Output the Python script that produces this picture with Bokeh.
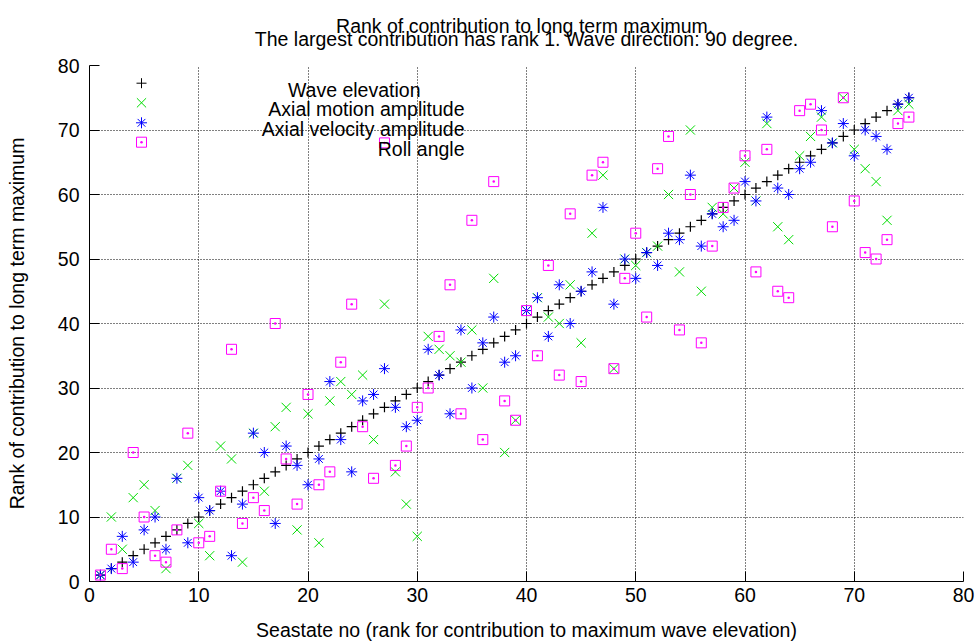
from bokeh.plotting import figure
from bokeh.models import Label, FixedTicker, Range1d, Title
from bokeh.embed import file_html
from bokeh.resources import INLINE

# ---------------- data ----------------
seastate = [1, 2, 3, 4, 5, 6, 7, 8, 9, 10, 11, 12, 13, 14, 15, 16, 17, 18, 19, 20,
            21, 22, 23, 24, 25, 26, 27, 28, 29, 30, 31, 32, 33, 34, 35, 36, 37, 38, 39, 40,
            41, 42, 43, 44, 45, 46, 47, 48, 49, 50, 51, 52, 53, 54, 55, 56, 57, 58, 59, 60,
            61, 62, 63, 64, 65, 66, 67, 68, 69, 70, 71, 72, 73, 74, 75]
wave_elevation = [1, 2, 3, 4, 5, 6, 7, 8, 9, 10, 11, 12, 13, 14, 15, 16, 17, 18, 19, 20,
                  21, 22, 23, 24, 25, 26, 27, 28, 29, 30, 31, 32, 33, 34, 35, 36, 37, 38, 39, 40,
                  41, 42, 43, 44, 45, 46, 47, 48, 49, 50, 51, 52, 53, 54, 55, 56, 57, 58, 59, 60,
                  61, 62, 63, 64, 65, 66, 67, 68, 69, 70, 71, 72, 73, 74, 75]
axial_motion = [1, 10, 5, 13, 15, 11, 2, 16, 18, 9, 4, 21, 19, 3, 23, 14, 24, 27, 8, 26,
                6, 28, 31, 29, 32, 22, 43, 17, 12, 7, 38, 36, 35, 34, 39, 30, 47, 20, 25, 42,
                44, 41, 40, 46, 37, 54, 63, 33, 50, 49, 51, 52, 60, 48, 70, 45, 58, 57, 61, 65,
                59, 71, 55, 53, 66, 69, 72, 68, 75, 67, 64, 62, 56, 73, 74]
axial_velocity = [1, 2, 7, 3, 8, 10, 5, 16, 6, 13, 11, 14, 4, 12, 23, 20, 9, 21, 18, 15,
                  19, 31, 22, 17, 28, 29, 33, 27, 24, 25, 36, 32, 26, 39, 30, 37, 41, 34, 35, 42,
                  44, 38, 46, 40, 45, 48, 58, 43, 50, 47, 51, 49, 54, 53, 63, 52, 57, 55, 56, 62,
                  59, 72, 61, 60, 64, 65, 73, 68, 71, 66, 70, 69, 67, 74, 75]
roll_angle = [1, 5, 2, 20, 10, 4, 3, 8, 23, 6, 7, 14, 36, 9, 13, 11, 40, 19, 12, 29,
              15, 17, 34, 43, 24, 16, 68, 18, 21, 27, 30, 38, 46, 26, 56, 22, 62, 28, 25, 42,
              35, 49, 32, 57, 31, 63, 65, 33, 47, 54, 41, 64, 69, 39, 60, 37, 52, 58, 61, 66,
              48, 67, 45, 44, 73, 74, 70, 55, 75, 59, 51, 50, 53, 71, 72]

axis_ticks = [0, 10, 20, 30, 40, 50, 60, 70, 80]
grid_ticks = [10, 20, 30, 40, 50, 60, 70, 80]

title_lines = ["Rank of contribution to long term maximum.",
               "The largest contribution has rank 1. Wave direction: 90 degree."]
x_label = "Seastate no (rank for contribution to maximum wave elevation)"
y_label = "Rank of contribution to long term maximum"
series_names = ["Wave elevation", "Axial motion amplitude",
                "Axial velocity amplitude", "Roll angle"]

# ---------------- styles / layout ----------------
FONT = "Liberation Sans"
FS = "19.5px"
C_BLACK, C_GREEN, C_BLUE, C_MAG = "#000000", "#00dd00", "#0000ff", "#ff00ff"

FRAME_L, FRAME_T, FRAME_W, FRAME_H = 89, 65, 874, 516  # canvas pixels


def dx(px):
    return (px - FRAME_L) / FRAME_W * 80.0


def dy(py):
    return (FRAME_T + FRAME_H - py) / FRAME_H * 80.0


p = figure(width=979, height=644, output_backend="svg", toolbar_location=None,
           x_range=Range1d(0, 80), y_range=Range1d(0, 80),
           min_border_left=89, min_border_right=16, min_border_top=65,
           min_border_bottom=63)
p.outline_line_color = None
p.background_fill_color = "white"
p.border_fill_color = "white"

for ax in (p.xaxis[0], p.yaxis[0]):
    ax.ticker = FixedTicker(ticks=axis_ticks)
    ax.major_tick_in = 10
    ax.major_tick_out = 0
    ax.minor_tick_in = 0
    ax.minor_tick_out = 0
    ax.major_tick_line_color = "black"
    ax.axis_line_color = "black"
    ax.axis_line_width = 1
    ax.major_label_text_font = FONT
    ax.major_label_text_font_size = FS
    ax.major_label_text_color = "black"
    ax.axis_label_text_font = FONT
    ax.axis_label_text_font_size = FS
    ax.axis_label_text_font_style = "normal"
    ax.axis_label_text_color = "black"
p.xaxis.major_label_standoff = 6
p.yaxis.major_label_standoff = 10
p.xaxis.axis_label = x_label
p.yaxis.axis_label = y_label
p.xaxis.axis_label_standoff = 14
p.yaxis.axis_label_standoff = 27

for g in (p.xgrid[0], p.ygrid[0]):
    g.ticker = FixedTicker(ticks=grid_ticks)
    g.grid_line_color = "black"
    g.grid_line_width = 1
    g.grid_line_dash = "1 2"

# title: one block of two lines; the shorter first line is centred over the
# second one with non-breaking spaces (multi-line titles are left-aligned)
pad = "\u00a0" * 15
p.add_layout(Title(text=pad + title_lines[0] + "\n" + title_lines[1], align="center",
                   vertical_align="top",
                   text_font=FONT, text_font_size=FS, text_font_style="normal",
                   text_color="black", text_line_height=0.62, standoff=26), "above")

# data series
p.scatter(seastate, wave_elevation, marker="cross", size=10, line_color=C_BLACK, line_width=1.2)
p.scatter(seastate, axial_motion, marker="x", size=13, line_color=C_GREEN, line_width=1)
p.scatter(seastate, axial_velocity, marker="asterisk", size=11, line_color=C_BLUE, line_width=1)
p.scatter(seastate, roll_angle, marker="square_dot", size=10, line_color=C_MAG,
          fill_color=None, line_width=1)

# legend (gnuplot style: key symbol left, right-justified text)
key_markers = ["cross", "x", "asterisk", "square_dot"]
key_sizes = [10, 13, 11, 10]
key_colors = [C_BLACK, C_GREEN, C_BLUE, C_MAG]
key_rows_px = [82.7, 102.3, 122.3, 141.7]
key_text_right_px = [420, 464, 464, 464]
for name, mk, ms, col, rpx, tpx in zip(series_names, key_markers, key_sizes, key_colors,
                                       key_rows_px, key_text_right_px):
    p.scatter([dx(141)], [dy(rpx)], marker=mk, size=ms, line_color=col, fill_color=None,
              line_width=1)
    p.add_layout(Label(x=dx(tpx), y=dy(rpx + 6.5), text=name, text_align="right",
                       text_baseline="alphabetic", text_font=FONT, text_font_size=FS,
                       text_color="black"))

open("out.html", "w").write(file_html(p, INLINE))
